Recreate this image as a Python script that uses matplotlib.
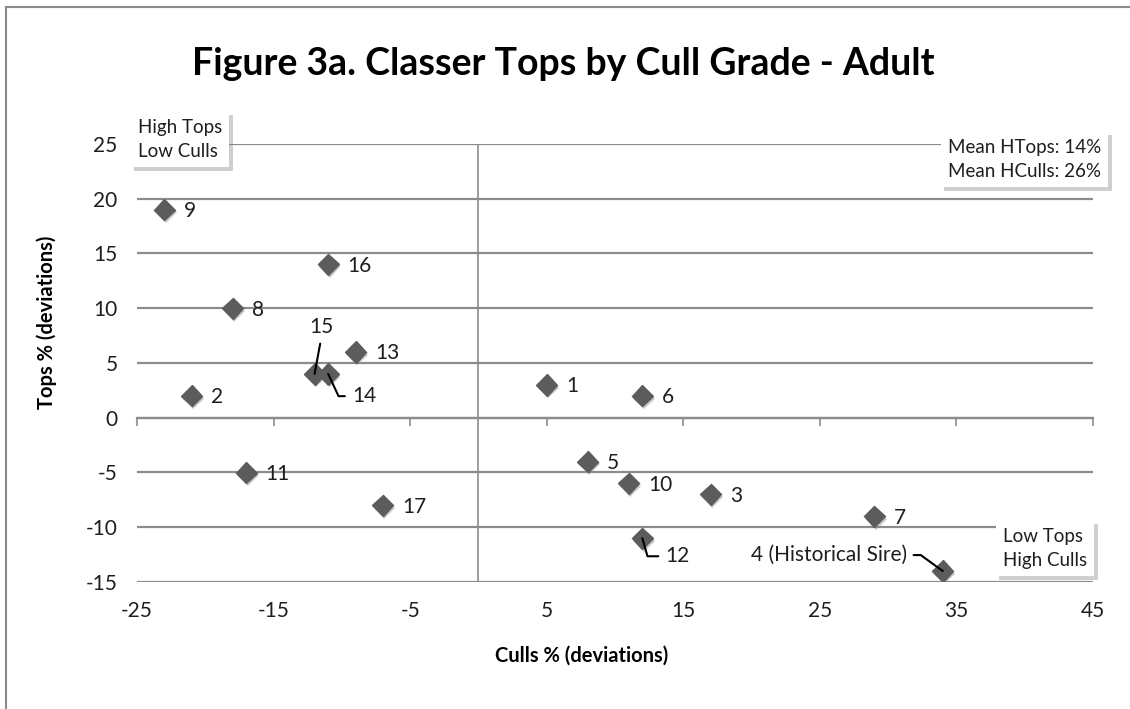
import matplotlib
matplotlib.use('Agg')
import matplotlib.pyplot as plt
import matplotlib.patheffects as pe
from matplotlib.lines import Line2D

plt.rcParams['font.family'] = ['Lato', 'DejaVu Sans']
plt.rcParams['axes.unicode_minus'] = False

# ---- data ----
sire_ids = ['1', '2', '3', '4', '5', '6', '7', '8', '9', '10', '11', '12', '13', '14', '15', '16', '17']
culls_dev = [5, -21, 17, 34, 8, 12, 29, -18, -23, 11, -17, 12, -9, -11, -12, -11, -7]
tops_dev = [3, 2, -7, -14, -4, 2, -9, 10, 19, -6, -5, -11, 6, 4, 4, 14, -8]
point_labels = ['1', '2', '3', '4 (Historical Sire)', '5', '6', '7', '8', '9', '10', '11', '12', '13', '14', '15', '16', '17']

x_ticks = [-25, -15, -5, 5, 15, 25, 35, 45]
y_ticks = [-15, -10, -5, 0, 5, 10, 15, 20, 25]

title = 'Figure 3a. Classer Tops by Cull Grade - Adult'
x_title = 'Culls % (deviations)'
y_title = 'Tops % (deviations)'
box_tl = 'High Tops\nLow Culls'
box_tr = 'Mean HTops: 14%\nMean HCulls: 26%'
box_br = 'Low Tops\nHigh Culls'

GRID = '#8c8c8c'
MARK = '#5c5c5c'
TXT = '#1e1e1e'

W, H = 1130, 709
fig = plt.figure(figsize=(W / 100, H / 100), dpi=100)
ax = fig.add_axes([137 / W, 1 - 582 / H, (1093 - 137) / W, (582 - 144) / H])

ax.set_xlim(x_ticks[0], x_ticks[-1])
ax.set_ylim(y_ticks[0], y_ticks[-1])
for s in ax.spines.values():
    s.set_visible(False)

ax.set_xticks(x_ticks)
ax.set_xticklabels([str(v) for v in x_ticks])
ax.set_yticks(y_ticks)
ax.set_yticklabels([str(v) for v in y_ticks])
ax.tick_params(axis='both', length=0, labelsize=15, colors=TXT)
ax.tick_params(axis='x', pad=14)
ax.tick_params(axis='y', pad=14)
ax.grid(axis='y', color=GRID, lw=1.6, zorder=0)
ax.set_axisbelow(True)

# horizontal axis crossing at y = 0 with outward ticks
frac0 = (0 - y_ticks[0]) / (y_ticks[-1] - y_ticks[0])
sec = ax.secondary_xaxis(frac0)
sec.set_xticks(x_ticks)
sec.tick_params(axis='x', direction='out', length=6, width=1.2, color=GRID, labelbottom=False, labeltop=False)
sec.spines['bottom'].set_color(GRID)
sec.spines['bottom'].set_linewidth(1.6)
sec.spines['top'].set_visible(False)

# vertical axis at x = 0
ax.axvline(0, color=GRID, lw=1.2, zorder=1)

# points
ax.plot(culls_dev, tops_dev, linestyle='none', marker='D', markersize=10.8,
        markerfacecolor=MARK, markeredgecolor=MARK, zorder=3,
        path_effects=[pe.SimplePatchShadow(offset=(1.2, -2), shadow_rgbFace='#888888', alpha=0.45), pe.Normal()])

special = {
    '15': dict(xytext=(5, 34), ha='center', va='center', relpos=(0.5, 0.0), conn='arc3'),
    '14': dict(xytext=(17, -16), ha='left', va='center', relpos=(0.0, 0.5), conn='angle,angleA=0,angleB=-65,rad=0'),
    '12': dict(xytext=(16.5, -13), ha='left', va='center', relpos=(0.0, 0.5), conn='angle,angleA=0,angleB=-74,rad=0'),
    '4': dict(xytext=(-26, 11.5), ha='right', va='center', relpos=(1.0, 0.5), conn='angle,angleA=0,angleB=-36,rad=0'),
}

for sid, x, y, lab in zip(sire_ids, culls_dev, tops_dev, point_labels):
    if sid in special:
        sp = special[sid]
        ax.annotate(lab, xy=(x, y), xytext=sp['xytext'], textcoords='offset points',
                    ha=sp['ha'], va=sp['va'], fontsize=15, color=TXT, zorder=5,
                    arrowprops=dict(arrowstyle='-', color='black', lw=1.5, shrinkA=3, shrinkB=0,
                                    relpos=sp['relpos'], connectionstyle=sp['conn']))
    else:
        ax.annotate(lab, xy=(x, y), xytext=(14, -1), textcoords='offset points',
                    ha='left', va='center', fontsize=15, color=TXT, zorder=5)

# titles
fig.text(563 / W, 1 - 64 / H, title, ha='center', va='center', fontsize=27, fontweight='bold', color='black')
fig.text(582 / W, 1 - 656 / H, x_title, ha='center', va='center', fontsize=14.5, fontweight='bold', color='black')
fig.text(47 / W, 1 - 322 / H, y_title, ha='center', va='center', rotation=90, fontsize=14.5, fontweight='bold', color='black')

# annotation boxes
shadow = [pe.withSimplePatchShadow(offset=(2.5, -2.5), shadow_rgbFace='#777777', alpha=0.35)]
for txt, (px, py) in [(box_tl, (138, 119)), (box_tr, (948, 139)), (box_br, (1003, 528))]:
    t = fig.text(px / W, 1 - py / H, txt, ha='left', va='top', fontsize=13.5, color=TXT,
                 linespacing=1.5,
                 bbox=dict(boxstyle='square,pad=0.38', fc='white', ec='none'))
    t.get_bbox_patch().set_path_effects(shadow)

# outer frame (top and left edges)
fig.add_artist(Line2D([6 / W, 1], [1 - 7 / H, 1 - 7 / H], transform=fig.transFigure, color='#8a8a8a', lw=1.5))
fig.add_artist(Line2D([6 / W, 6 / W], [0, 1 - 7 / H], transform=fig.transFigure, color='#8a8a8a', lw=1.5))

fig.savefig('out.png', dpi=100, facecolor='white')
